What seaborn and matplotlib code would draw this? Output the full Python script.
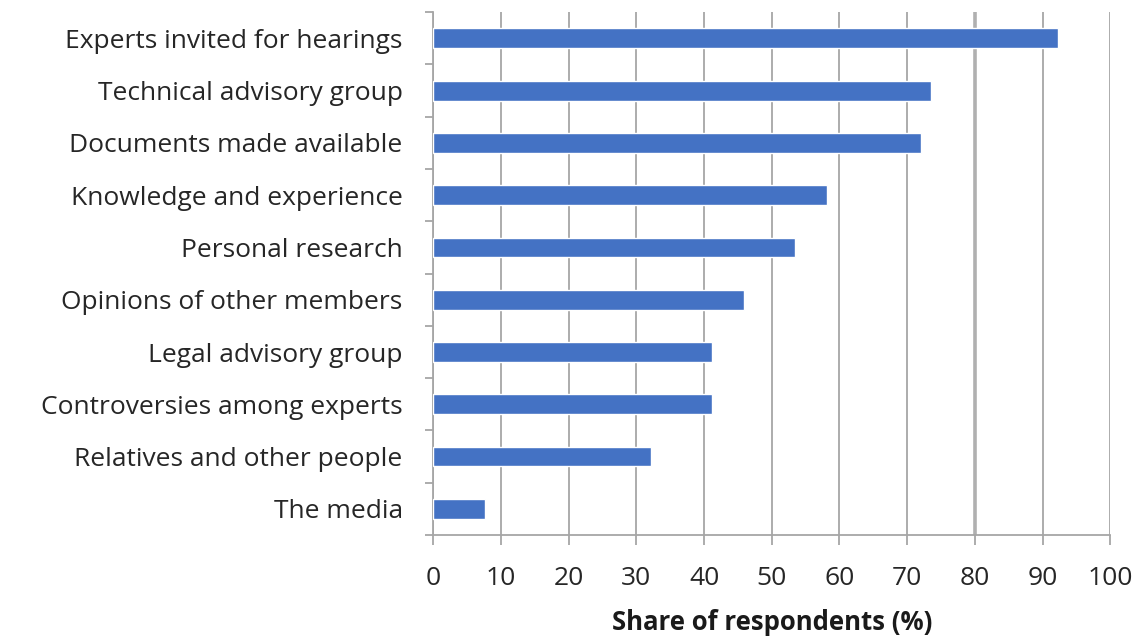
import matplotlib
matplotlib.use("Agg")
import matplotlib.pyplot as plt
import seaborn as sns
import pandas as pd
import numpy as np

# data (top to bottom)
categories = [
    "Experts invited for hearings",
    "Technical advisory group",
    "Documents made available",
    "Knowledge and experience",
    "Personal research",
    "Opinions of other members",
    "Legal advisory group",
    "Controversies among experts",
    "Relatives and other people",
    "The media",
]
shares = [92.2, 73.5, 72.0, 58.2, 53.5, 45.9, 41.1, 41.1, 32.2, 7.7]
x_ticks = list(range(0, 101, 10))

df = pd.DataFrame({"source": categories, "share": shares})

sns.set_theme(style="white")
plt.rcParams["font.family"] = ["Open Sans", "DejaVu Sans"]

fig, ax = plt.subplots(figsize=(11.4, 6.43), dpi=100)
fig.subplots_adjust(left=0.380, right=0.974, top=0.981, bottom=0.168)

sns.barplot(data=df, x="share", y="source", order=categories,
            color="#4472C4", saturation=1, width=0.38, ax=ax, zorder=3)

ax.set_xlim(0, 100)
ax.set_ylim(len(categories) - 0.5, -0.5)
ax.set_xticks(x_ticks)
ax.set_xticklabels([str(t) for t in x_ticks])

# vertical gridlines, Excel style
ax.grid(axis="x", color="#a6a6a6", linewidth=1.3, zorder=0)
for tick, gl in zip(x_ticks, ax.get_xgridlines()):
    if tick == 80:
        gl.set_linewidth(2.6)
        gl.set_color("#b0b0b0")

for side in ["top", "right"]:
    ax.spines[side].set_visible(False)
for side in ["left", "bottom"]:
    ax.spines[side].set_color("#a6a6a6")
    ax.spines[side].set_linewidth(1.3)

# category boundary ticks on y axis
ax.set_yticks(np.arange(-0.5, len(categories), 1.0), minor=True)
ax.tick_params(axis="y", which="major", length=0, pad=22,
               labelsize=19, labelcolor="#262626")
ax.tick_params(axis="y", which="minor", length=6, width=1.3,
               color="#a6a6a6", direction="out", left=True)
ax.tick_params(axis="x", which="major", length=7, width=1.3,
               color="#a6a6a6", direction="out", bottom=True, pad=15,
               labelsize=19, labelcolor="#262626")

ax.set_ylabel("")
ax.set_xlabel("Share of respondents (%)", fontsize=18.5, fontweight="bold",
              color="#1a1a1a", labelpad=13)

fig.savefig("out.png", dpi=100)
